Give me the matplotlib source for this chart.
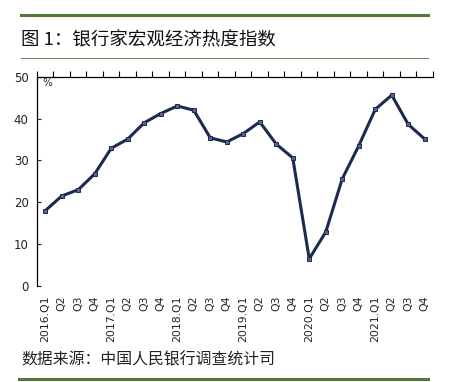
import numpy as np
import matplotlib.pyplot as plt
from matplotlib.lines import Line2D

plt.rcParams['font.family'] = ['DejaVu Sans', 'Noto Sans CJK SC']

# quarterly index values (%)
quarters = ['2016.Q1', 'Q2', 'Q3', 'Q4',
            '2017.Q1', 'Q2', 'Q3', 'Q4',
            '2018.Q1', 'Q2', 'Q3', 'Q4',
            '2019.Q1', 'Q2', 'Q3', 'Q4',
            '2020.Q1', 'Q2', 'Q3', 'Q4',
            '2021.Q1', 'Q2', 'Q3', 'Q4']
heat_index = [18.0, 21.5, 23.0, 26.8,
              32.9, 35.1, 39.0, 41.2,
              43.0, 42.0, 35.4, 34.4,
              36.4, 39.2, 33.9, 30.6,
              6.5, 12.9, 25.6, 33.5,
              42.2, 45.6, 38.6, 35.1]
y_ticks = [0, 10, 20, 30, 40, 50]

title = '图 1：银行家宏观经济热度指数'
source = '数据来源：中国人民银行调查统计司'

green = '#55773a'
navy = '#1d2a50'

fig = plt.figure(figsize=(4.52, 3.82), dpi=100)
ax = fig.add_axes([37/452, 1-286/382, (433-37)/452, (286-76.7)/382])

x = np.arange(len(heat_index))
ax.plot(x, heat_index, color=navy, lw=2.2, marker='s', ms=3.3,
        mfc='#56658a', mec=navy, mew=0.7, zorder=3)

ax.set_xlim(-0.5, len(heat_index) - 0.5)
ax.set_ylim(0, 50)
ax.set_yticks(y_ticks)
ax.tick_params(axis='y', direction='in', length=3, width=0.8,
               labelsize=8.5, pad=6, colors='#222222')

ax.set_xticks(x)
ax.set_xticklabels(quarters, rotation=90, fontsize=7.8, va='top')
ax.tick_params(axis='x', which='major', length=0, pad=7, colors='#222222')
ax.set_xticks(np.arange(-0.5, len(heat_index)), minor=True)
ax.tick_params(axis='x', which='minor', top=True, bottom=False,
               direction='out', length=4.5, width=0.8)

ax.spines['right'].set_visible(False)
ax.spines['bottom'].set_visible(False)
ax.spines['top'].set_linewidth(0.9)
ax.spines['left'].set_linewidth(0.9)

ax.text(-0.2, 49.6, '%', fontsize=7.5, va='top', ha='left', color='#222222')

# header / footer decorations
fig.add_artist(Line2D([21/452, 428/452], [1-15.3/382]*2, color=green, lw=2.2))
fig.add_artist(Line2D([21/452, 428/452], [1-57.7/382]*2, color='#6f8a5a', lw=0.8))
fig.add_artist(Line2D([19/452, 428/452], [1-379/382]*2, color=green, lw=2.2))

fig.text(21/452, 1-40/382, title, fontsize=13.3, va='center', ha='left',
         family=['Noto Sans CJK SC', 'DejaVu Sans'], weight='medium', color='#111111')
fig.text(21/452, 1-360/382, source, fontsize=11.4, va='center', ha='left',
         family=['Noto Sans CJK SC', 'DejaVu Sans'], color='#222222')

fig.savefig('out.png', dpi=100)
